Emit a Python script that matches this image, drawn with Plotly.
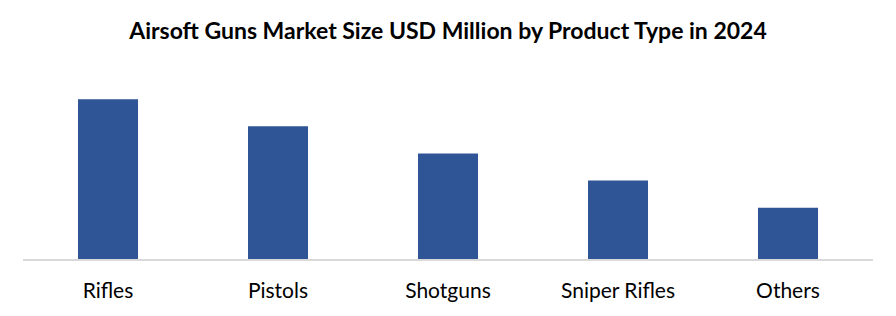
import plotly.graph_objects as go

categories = ["Rifles", "Pistols", "Shotguns", "Sniper Rifles", "Others"]
values = [159, 132, 105, 78, 51]

fig = go.Figure(go.Bar(x=categories, y=values, marker_color="#2F5597", marker_line_width=0))

fig.update_layout(
    width=896, height=316,
    margin=dict(l=23, r=23, t=60, b=57),
    paper_bgcolor="white", plot_bgcolor="white",
    bargap=0.647,
    showlegend=False,
    title=dict(text="<b>Airsoft Guns Market Size USD Million by Product Type in 2024</b>",
               x=0.5, xanchor="center", y=1 - 31/316, yanchor="middle",
               font=dict(family="Lato", size=23, color="black")),
    font=dict(family="Lato", color="black"),
)
fig.update_xaxes(showline=True, linecolor="#D9D9D9", linewidth=2, ticks="",
                 ticklabelstandoff=12,
                 tickfont=dict(size=21, color="black"), showgrid=False)
fig.update_yaxes(range=[0, 198], visible=False, showgrid=False)

fig.write_html("out.html")
